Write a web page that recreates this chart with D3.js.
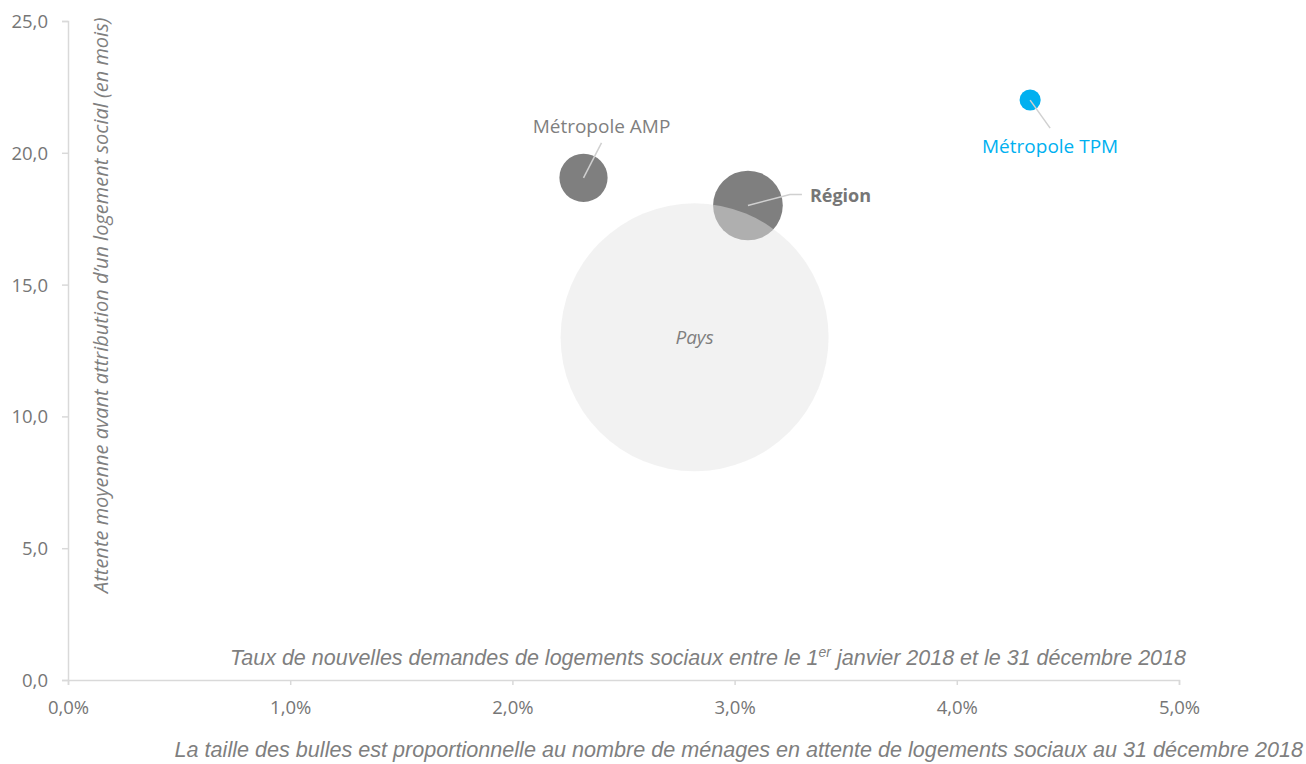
<!DOCTYPE html>
<html>
<head>
<meta charset="utf-8">
<script src="https://cdn.jsdelivr.net/npm/d3@7"></script>
<style>
  body { margin: 0; background: #fff; }
  svg text { font-family: "Open Sans", sans-serif; }
</style>
</head>
<body>
<svg width="1306" height="764"></svg>
<script>
// ---- Données
const territoires = ['Métropole AMP', 'Région', 'Pays', 'Métropole TPM'];
const tauxDemandes = [2.32, 3.06, 2.82, 4.33];      // % (axe X)
const attenteMois = [19.05, 18.0, 13.0, 22.0];      // mois (axe Y)
const menagesAttente = [68000, 142000, 2100000, 13000];
const xTicks = [0, 1, 2, 3, 4, 5];
const yTicks = [0, 5, 10, 15, 20, 25];

const svg = d3.select('svg');
const margens = { left: 68, right: 127, top: 21, bottom: 84 };
const width = +svg.attr('width');
const height = +svg.attr('height');
const innerWidth = width - margens.left - margens.right;
const innerHeight = height - margens.top - margens.bottom;

const fmt = d3.format('.1f');
const virgule = s => s.replace('.', ',');

// ---- Escalas
const mapX = d3.scaleLinear().domain([0, 5]).range([0, innerWidth]);
const mapY = d3.scaleLinear().domain([0, 25]).range([innerHeight, 0]);
const mapR = d3.scaleSqrt().domain([0, d3.max(menagesAttente)]).range([0, 134]);

const g = svg.append('g')
    .attr('transform', `translate(${margens.left}, ${margens.top})`);

// ---- Eixos
const eixoX = g.append('g')
    .attr('transform', `translate(0, ${innerHeight})`)
    .call(d3.axisBottom(mapX).tickValues(xTicks).tickSize(5).tickPadding(16)
        .tickFormat(d => virgule(fmt(d)) + '%'));

const eixoY = g.append('g')
    .call(d3.axisLeft(mapY).tickValues(yTicks).tickSize(6).tickPadding(14)
        .tickFormat(d => virgule(fmt(d))));

[eixoX, eixoY].forEach(e => {
    e.select('.domain').attr('stroke', '#d9d9d9').attr('stroke-width', 1.5);
    e.selectAll('.tick line').attr('stroke', '#d9d9d9').attr('stroke-width', 1.5);
    e.selectAll('.tick text')
        .attr('fill', '#767676')
        .style('font-size', '18.5px')
        .style('font-family', '"Open Sans", sans-serif');
});
eixoY.selectAll('.tick text').attr('dy', '0.35em');

// ---- Bolhas
const dados = territoires.map((nome, i) => ({
    nome, x: tauxDemandes[i], y: attenteMois[i], r: mapR(menagesAttente[i])
}));
const cores = {
    'Métropole AMP': { fill: '#7f7f7f', opacity: 1 },
    'Région': { fill: '#7f7f7f', opacity: 1 },
    'Pays': { fill: '#e4e4e4', opacity: 0.48 },
    'Métropole TPM': { fill: '#00b0f0', opacity: 1 }
};

g.selectAll('circle.bulle')
    .data(dados)
    .enter()
    .append('circle')
    .attr('class', 'bulle')
    .attr('cx', d => mapX(d.x))
    .attr('cy', d => mapY(d.y))
    .attr('r', d => d.r)
    .attr('fill', d => cores[d.nome].fill)
    .attr('fill-opacity', d => cores[d.nome].opacity);

// ---- Linhas de chamada e rótulos
const byName = n => dados.find(d => d.nome === n);
const pos = d => [mapX(d.x), mapY(d.y)];

const amp = byName('Métropole AMP');
const [ax, ay] = pos(amp);
g.append('line')
    .attr('x1', ax).attr('y1', ay).attr('x2', ax + 18).attr('y2', ay - 35)
    .attr('stroke', '#d0d0d0').attr('stroke-width', 1.5);
g.append('text')
    .attr('x', ax + 18).attr('y', ay - 45)
    .attr('text-anchor', 'middle')
    .attr('fill', '#7f7f7f')
    .style('font-size', '19px')
    .text('Métropole AMP');

const reg = byName('Région');
const [rx, ry] = pos(reg);
g.append('polyline')
    .attr('points', `${rx},${ry} ${rx + 42},${ry - 11} ${rx + 54},${ry - 11}`)
    .attr('fill', 'none')
    .attr('stroke', '#d0d0d0').attr('stroke-width', 1.5);
g.append('text')
    .attr('x', rx + 62).attr('y', ry - 10)
    .attr('dy', '0.35em')
    .attr('fill', '#767676')
    .style('font-size', '18px')
    .style('font-weight', 'bold')
    .text('Région');

const pays = byName('Pays');
const [px, py] = pos(pays);
g.append('text')
    .attr('x', px).attr('y', py)
    .attr('dy', '0.35em')
    .attr('text-anchor', 'middle')
    .attr('fill', '#7f7f7f')
    .style('font-size', '19px')
    .style('font-style', 'italic')
    .text('Pays');

const tpm = byName('Métropole TPM');
const [tx, ty] = pos(tpm);
g.append('line')
    .attr('x1', tx).attr('y1', ty).attr('x2', tx + 20).attr('y2', ty + 28)
    .attr('stroke', '#d0d0d0').attr('stroke-width', 1.5);
g.append('text')
    .attr('x', tx + 20).attr('y', ty + 46)
    .attr('dy', '0.35em')
    .attr('text-anchor', 'middle')
    .attr('fill', '#00b0f0')
    .style('font-size', '19px')
    .text('Métropole TPM');

// ---- Rótulos dos eixos
g.append('text')
    .attr('transform', 'rotate(-90)')
    .attr('x', -innerHeight + 87)
    .attr('y', 40)
    .attr('text-anchor', 'start')
    .attr('fill', '#7f7f7f')
    .style('font-size', '20px')
    .style('font-style', 'italic')
    .text('Attente moyenne avant attribution d\u2019un logement social (en mois)');

const rotuloX = g.append('text')
    .attr('x', 1186 - margens.left)
    .attr('y', innerHeight - 15)
    .attr('text-anchor', 'end')
    .attr('fill', '#7f7f7f')
    .style('font-family', '"Liberation Sans", Arial, sans-serif')
    .style('font-size', '21.5px')
    .style('font-style', 'italic');
rotuloX.append('tspan').text('Taux de nouvelles demandes de logements sociaux entre le 1');
rotuloX.append('tspan').attr('dy', -8).style('font-size', '14px').text('er');
rotuloX.append('tspan').attr('dy', 8).text(' janvier 2018 et le 31 décembre 2018');

svg.append('text')
    .attr('x', 1303)
    .attr('y', 757)
    .attr('text-anchor', 'end')
    .attr('fill', '#7f7f7f')
    .style('font-family', '"Liberation Sans", Arial, sans-serif')
    .style('font-size', '21.6px')
    .style('font-style', 'italic')
    .text('La taille des bulles est proportionnelle au nombre de ménages en attente de logements sociaux au 31 décembre 2018');
</script>
</body>
</html>
